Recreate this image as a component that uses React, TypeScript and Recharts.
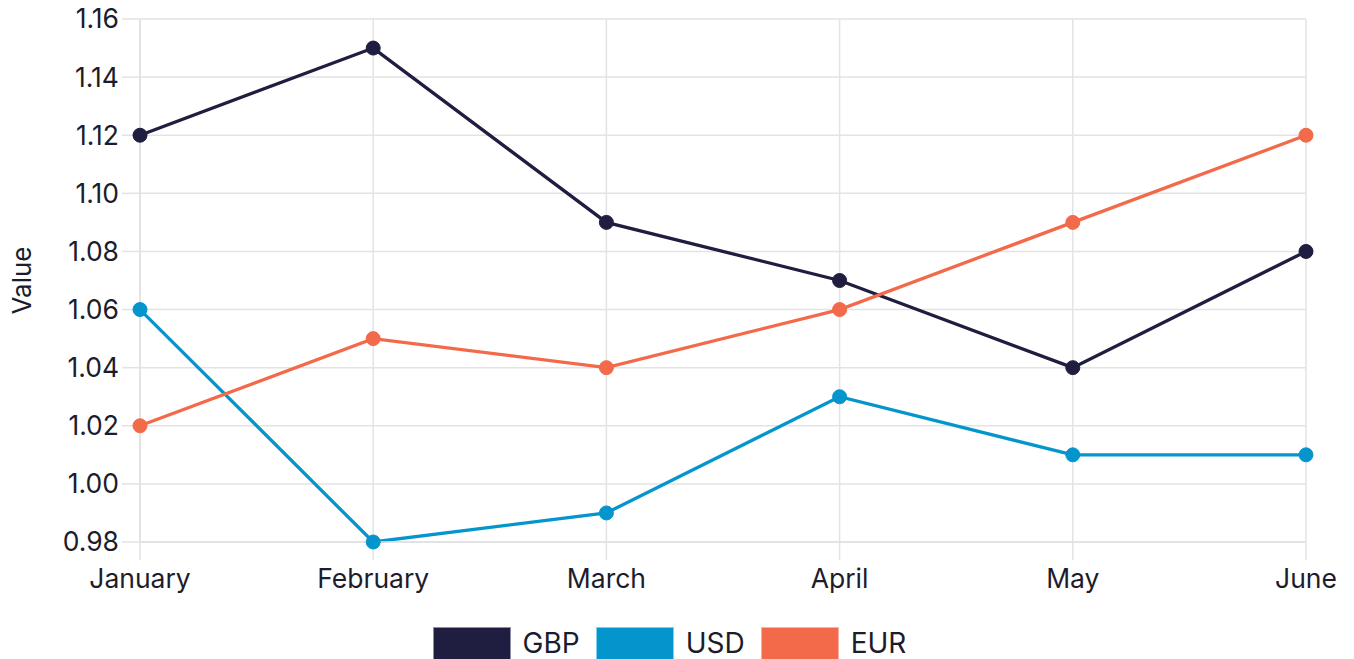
import React from "react";
import { LineChart, Line, XAxis, YAxis, CartesianGrid, Legend } from "recharts";

const months = ["January", "February", "March", "April", "May", "June"];
const gbp = [1.12, 1.15, 1.09, 1.07, 1.04, 1.08];
const usd = [1.06, 0.98, 0.99, 1.03, 1.01, 1.01];
const eur = [1.02, 1.05, 1.04, 1.06, 1.09, 1.12];
const yTicks = [0.98, 1.0, 1.02, 1.04, 1.06, 1.08, 1.1, 1.12, 1.14, 1.16];

const series = [
  { key: "GBP", color: "#1f1d40", border: "#8e8da6" },
  { key: "USD", color: "#0595cd", border: "#7fd0ef" },
  { key: "EUR", color: "#f26a4a", border: "#f8b3a3" },
];

const data = months.map((m, i) => ({ month: m, GBP: gbp[i], USD: usd[i], EUR: eur[i] }));

const FONT = "Inter, 'Noto Sans', sans-serif";
const TEXT = "#1c1c2c";

const renderLegend = () => (
  <div style={{ display: "flex", justifyContent: "center", paddingTop: 15, fontFamily: FONT, paddingLeft: 33 }}>
    {series.map((s, i) => (
      <div key={s.key} style={{ display: "flex", alignItems: "flex-start", marginLeft: i === 0 ? 0 : 16 }}>
        <div style={{ width: 76, height: 31, background: s.color, border: `1px solid ${s.border}` }} />
        <span style={{ marginLeft: 12, fontSize: 28, lineHeight: "33px", color: TEXT }}>{s.key}</span>
      </div>
    ))}
  </div>
);

export default function App() {
  return (
    <div style={{ position: "absolute", left: 0, top: 0, width: 1354, height: 659, overflow: "hidden", background: "#fff" }}>
      <LineChart width={1354} height={659} data={data} margin={{ top: 19, right: 48, bottom: 0, left: 0 }}>
        <CartesianGrid stroke="#e3e3e3" strokeWidth={1.5} />
        <XAxis
          dataKey="month"
          height={70}
          tickSize={18}
          tickMargin={9}
          axisLine={{ stroke: "#e0e0e0", strokeWidth: 1.5 }}
          tickLine={{ stroke: "#e3e3e3", strokeWidth: 1.5 }}
          tick={{ fill: TEXT, fontSize: 26.5, fontFamily: FONT }}
          interval={0}
        />
        <YAxis
          width={140}
          domain={[0.98, 1.16]}
          ticks={yTicks}
          tickFormatter={(v: number) => v.toFixed(2)}
          tickSize={18}
          tickMargin={3}
          axisLine={{ stroke: "#e0e0e0", strokeWidth: 1.5 }}
          tickLine={{ stroke: "#e3e3e3", strokeWidth: 1.5 }}
          tick={{ fill: TEXT, fontSize: 26.5, fontFamily: FONT }}
          interval={0}
          label={{ value: "Value", angle: -90, position: "insideLeft", offset: 22, style: { fill: TEXT, fontSize: 26, fontFamily: FONT, textAnchor: "middle" } }}
        />
        <Legend verticalAlign="bottom" height={47} content={renderLegend} />
        {series.map((s) => (
          <Line
            key={s.key}
            dataKey={s.key}
            stroke={s.color}
            strokeWidth={3.3}
            dot={{ r: 7, fill: s.color, stroke: s.color, strokeWidth: 1 }}
            activeDot={false}
            isAnimationActive={false}
            type="linear"
          />
        ))}
      </LineChart>
    </div>
  );
}
